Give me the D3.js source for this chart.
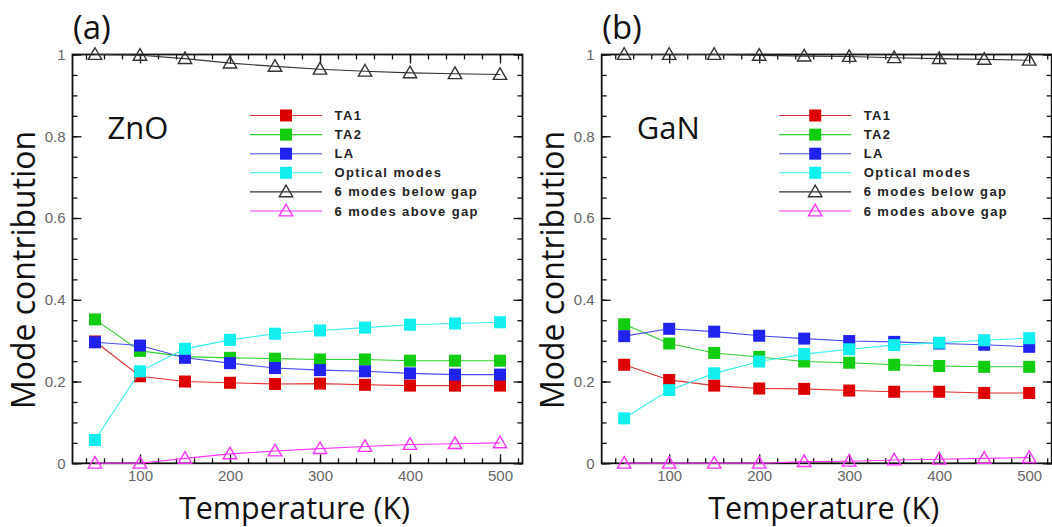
<!DOCTYPE html>
<html>
<head>
<meta charset="utf-8">
<script src="https://cdn.jsdelivr.net/npm/d3@7"></script>
<style>
  body { margin: 0; background: #fff; }
  svg { display: block; }
  .tick text { font-family: "Liberation Sans", Arial, sans-serif; font-size: 15px; fill: #666; }
  .legend text { font-family: "Liberation Sans", Arial, sans-serif; font-size: 13px; font-weight: bold; fill: #222; letter-spacing: 1.4px; }
  .big { font-family: "Open Sans", sans-serif; fill: #111; }
</style>
</head>
<body>
<div id="chart"></div>
<script>
// temperatures (K)
var temps = [50, 100, 150, 200, 250, 300, 350, 400, 450, 500];
var seriesNames = ["TA1", "TA2", "LA", "Optical modes", "6 modes below gap", "6 modes above gap"];

// ZnO
var znoTA1 = [0.298, 0.213, 0.200, 0.197, 0.194, 0.195, 0.192, 0.190, 0.190, 0.190];
var znoTA2 = [0.352, 0.275, 0.261, 0.258, 0.256, 0.254, 0.254, 0.251, 0.251, 0.251];
var znoLA = [0.296, 0.288, 0.258, 0.245, 0.233, 0.228, 0.225, 0.220, 0.217, 0.217];
var znoOptical = [0.057, 0.225, 0.280, 0.302, 0.317, 0.325, 0.332, 0.339, 0.342, 0.345];
var znoBelow = [1.000, 0.998, 0.990, 0.979, 0.971, 0.964, 0.959, 0.955, 0.953, 0.951];
var znoAbove = [0.000, 0.000, 0.012, 0.023, 0.030, 0.036, 0.041, 0.046, 0.048, 0.050];

// GaN
var ganTA1 = [0.241, 0.204, 0.190, 0.183, 0.182, 0.178, 0.175, 0.175, 0.172, 0.172];
var ganTA2 = [0.340, 0.293, 0.270, 0.260, 0.249, 0.246, 0.241, 0.238, 0.236, 0.236];
var ganLA = [0.311, 0.329, 0.322, 0.312, 0.305, 0.299, 0.297, 0.293, 0.290, 0.285];
var ganOptical = [0.110, 0.179, 0.220, 0.249, 0.267, 0.279, 0.289, 0.295, 0.301, 0.306];
var ganBelow = [1.000, 1.000, 1.000, 0.998, 0.996, 0.995, 0.992, 0.990, 0.988, 0.986];
var ganAbove = [0.000, 0.000, 0.000, 0.000, 0.004, 0.005, 0.008, 0.010, 0.012, 0.014];

// ticks
var xMajor = [100, 200, 300, 400, 500];
var xMinor = d3.range(40, 521, 20);
var yMajor = [0, 0.2, 0.4, 0.6, 0.8, 1];
var yMinor = d3.range(0, 21).map(function (i) { return i * 0.05; });

var styles = [
  { line: "#e03030", fill: "#dd0000", stroke: "#dd0000", shape: "square" },
  { line: "#30d030", fill: "#11cc11", stroke: "#11cc11", shape: "square" },
  { line: "#4a4aee", fill: "#2222ee", stroke: "#2222ee", shape: "square" },
  { line: "#33eeee", fill: "#11eeee", stroke: "#11eeee", shape: "square" },
  { line: "#333333", fill: "#fff", stroke: "#333333", shape: "triangle" },
  { line: "#ff33ff", fill: "#fff", stroke: "#ff33ff", shape: "triangle" }
];

var panels = [
  { left: 72.5, tag: "(a)", name: "ZnO", series: [znoTA1, znoTA2, znoLA, znoOptical, znoBelow, znoAbove] },
  { left: 601.7, tag: "(b)", name: "GaN", series: [ganTA1, ganTA2, ganLA, ganOptical, ganBelow, ganAbove] }
];

var W = 1052, H = 527;
var plotTop = 54.5, plotBottom = 463.3, plotW = 450;

var svg = d3.select("#chart").append("svg")
    .attr("width", W)
    .attr("height", H);

svg.append("rect").attr("width", W).attr("height", H).attr("fill", "#fff");

var tri = d3.symbol().type(d3.symbolTriangle).size(78);

var drawMarker = function (g, st, cx, cy) {
  if (st.shape == "square") {
    g.append("rect")
      .attr("x", cx - 6).attr("y", cy - 6)
      .attr("width", 12).attr("height", 12)
      .attr("fill", st.fill);
  } else {
    g.append("path")
      .attr("d", tri)
      .attr("transform", "translate(" + cx + "," + (cy + 1) + ")")
      .attr("fill", "none")
      .attr("stroke", st.stroke)
      .attr("stroke-width", 1.4);
  }
}

panels.forEach(function (p) {
  var h = plotBottom - plotTop;
  var x = d3.scaleLinear().domain([25, 525]).range([0, plotW]);
  var y = d3.scaleLinear().domain([0, 1]).range([h, 0]);

  var g = svg.append("g")
      .attr("transform", "translate(" + p.left + "," + plotTop + ")");

  // minor ticks
  g.append("g").attr("transform", "translate(0," + h + ")")
    .call(d3.axisBottom(x).tickValues(xMinor).tickSize(-5).tickFormat(""));
  g.append("g")
    .call(d3.axisTop(x).tickValues(xMinor).tickSize(-5).tickFormat(""));
  g.append("g")
    .call(d3.axisLeft(y).tickValues(yMinor).tickSize(-5).tickFormat(""));
  g.append("g").attr("transform", "translate(" + plotW + ",0)")
    .call(d3.axisRight(y).tickValues(yMinor).tickSize(-5).tickFormat(""));

  // major ticks + labels
  g.append("g").attr("transform", "translate(0," + h + ")")
    .call(d3.axisBottom(x).tickValues(xMajor).tickSize(-9).tickPadding(7));
  g.append("g")
    .call(d3.axisTop(x).tickValues(xMajor).tickSize(-9).tickFormat(""));
  g.append("g")
    .call(d3.axisLeft(y).tickValues(yMajor).tickSize(-9).tickPadding(7).tickFormat(d3.format("~g")));
  g.append("g").attr("transform", "translate(" + plotW + ",0)")
    .call(d3.axisRight(y).tickValues(yMajor).tickSize(-9).tickFormat(""));

  g.selectAll(".domain").remove();
  g.selectAll(".tick line").attr("stroke", "#111").attr("stroke-width", 1.3);

  g.append("rect")
    .attr("width", plotW).attr("height", h)
    .attr("fill", "none").attr("stroke", "#111").attr("stroke-width", 1.8);

  // series
  var line = d3.line()
      .x(function (d, i) { return x(temps[i]); })
      .y(function (d) { return y(d); });

  p.series.forEach(function (vals, si) {
    var st = styles[si];
    var sg = g.append("g");
    sg.append("path")
      .attr("d", line(vals))
      .attr("fill", "none")
      .attr("stroke", st.line)
      .attr("stroke-width", 1.1);
    vals.forEach(function (v, i) {
      drawMarker(sg, st, x(temps[i]), y(v));
    });
  });

  // legend
  var lg = g.append("g").attr("class", "legend");
  seriesNames.forEach(function (name, i) {
    var ly = 115.5 - plotTop + i * 19.1;
    var st = styles[i];
    lg.append("line")
      .attr("x1", 177.5).attr("x2", 249.5)
      .attr("y1", ly).attr("y2", ly)
      .attr("stroke", st.line).attr("stroke-width", 1.1);
    drawMarker(lg, st, 213.5, ly);
    lg.append("text")
      .attr("x", 262).attr("y", ly + 4.5)
      .text(name);
  });

  // labels
  svg.append("text").attr("class", "big")
    .attr("x", p.left + 0.5).attr("y", 39)
    .style("font-size", "33px")
    .text(p.tag);
  svg.append("text").attr("class", "big")
    .attr("x", p.left + 35).attr("y", 139)
    .style("font-size", "31px")
    .text(p.name);
  svg.append("text").attr("class", "big")
    .attr("x", p.left + 222).attr("y", 519)
    .attr("text-anchor", "middle")
    .style("font-size", "30.5px")
    .text("Temperature (K)");
  svg.append("text").attr("class", "big")
    .attr("transform", "translate(" + (p.left - 38) + ",270) rotate(-90)")
    .attr("text-anchor", "middle")
    .style("font-size", "32px")
    .text("Mode contribution");
});
</script>
</body>
</html>
